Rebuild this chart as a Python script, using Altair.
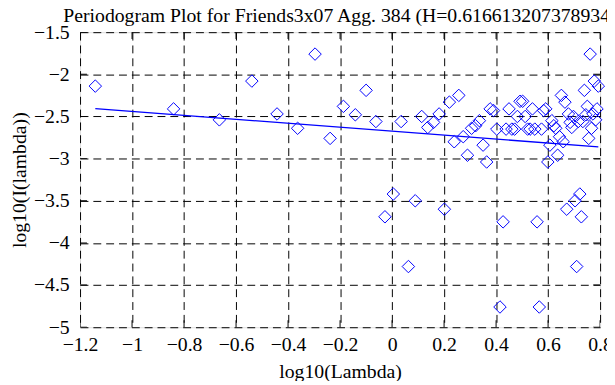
import altair as alt
import pandas as pd

# log10(Lambda) for each periodogram ordinate
log_lambda = [
    -1.1413, -0.8403, -0.6642, -0.5393, -0.4424, -0.3632, -0.2962, -0.2383, -0.1871, -0.1413,
    -0.0999, -0.0622, -0.0274, 0.0048, 0.0348, 0.0628, 0.0891, 0.1139, 0.1374, 0.1597,
    0.1809, 0.2011, 0.2204, 0.2389, 0.2566, 0.2736, 0.2900, 0.3058, 0.3211, 0.3358,
    0.3500, 0.3638, 0.3772, 0.3901, 0.4027, 0.4150, 0.4269, 0.4384, 0.4497, 0.4607,
    0.4714, 0.4819, 0.4921, 0.5021, 0.5119, 0.5214, 0.5308, 0.5399, 0.5489, 0.5576,
    0.5662, 0.5747, 0.5829, 0.5911, 0.5990, 0.6069, 0.6145, 0.6221, 0.6295, 0.6368,
    0.6440, 0.6511, 0.6580, 0.6648, 0.6716, 0.6782, 0.6847, 0.6912, 0.6975, 0.7038,
    0.7099, 0.7160, 0.7220, 0.7279, 0.7337, 0.7395, 0.7452, 0.7508, 0.7563, 0.7618,
    0.7671, 0.7725, 0.7777, 0.7829, 0.7881, 0.7932,
]

# log10(I(lambda))
log_I = [
    -2.14, -2.41, -2.54, -2.08, -2.47, -2.64, -1.76, -2.76, -2.38, -2.48,
    -2.19, -2.56, -3.69, -3.42, -2.56, -4.28, -3.50, -2.50, -2.63, -2.57,
    -2.47, -3.60, -2.33, -2.80, -2.25, -2.74, -2.96, -2.64, -2.61, -2.55,
    -2.84, -3.04, -2.41, -2.43, -2.65, -4.76, -3.75, -2.65, -2.41, -2.65,
    -2.65, -2.50, -2.32, -2.32, -2.50, -2.65, -2.65, -2.41, -2.65, -3.75,
    -4.76, -2.65, -2.43, -2.41, -3.04, -2.84, -2.55, -2.61, -2.64, -2.96,
    -2.74, -2.25, -2.80, -2.33, -3.60, -2.47, -2.57, -2.63, -2.50, -3.50,
    -4.28, -2.56, -3.42, -3.69, -2.56, -2.19, -2.48, -2.38, -2.76, -1.76,
    -2.64, -2.47, -2.08, -2.54, -2.41, -2.14,
]

# least-squares fit line end points
fit_x = [-1.1413, 0.7932]
fit_y = [-2.406, -2.861]

x_ticks = [-1.2, -1, -0.8, -0.6, -0.4, -0.2, 0, 0.2, 0.4, 0.6, 0.8]
y_ticks = [-5, -4.5, -4, -3.5, -3, -2.5, -2, -1.5]
x_range = [-1.2, 0.8]
y_range = [-5, -1.5]

title_text = "Periodogram Plot for Friends3x07 Agg. 384 (H=0.6166132073789345)"

FONT = "Liberation Serif"

pts = pd.DataFrame({"x": log_lambda, "y": log_I})
fit = pd.DataFrame({"x": fit_x, "y": fit_y})
xt = pd.DataFrame([(t, e) for t in x_ticks for e in y_range], columns=["x", "y"])
yt = pd.DataFrame([(e, t) for t in y_ticks for e in x_range], columns=["x", "y"])

common_axis = dict(
    grid=True, gridColor="black", gridDash=[8, 5], gridWidth=1, gridOpacity=1,
    ticks=False, domain=False, format="~g",
    labelFont=FONT, labelFontSize=20, labelColor="black", labelFlush=False,
    labelOverlap=False,
    titleFont=FONT, titleFontSize=20, titleFontWeight="normal", titleColor="black",
)

X = alt.X("x:Q", scale=alt.Scale(domain=x_range, nice=False, zero=False),
          axis=alt.Axis(values=x_ticks, title="log10(Lambda)", labelPadding=8,
                        titlePadding=7, **common_axis))
Y = alt.Y("y:Q", scale=alt.Scale(domain=y_range, nice=False, zero=False),
          axis=alt.Axis(values=y_ticks, title="log10(I(lambda))", labelPadding=11,
                        titlePadding=4, **common_axis))

points = alt.Chart(pts).mark_point(
    shape="diamond", filled=False, color="#0000ff", size=160, strokeWidth=1, opacity=1
).encode(x=X, y=Y)

line = alt.Chart(fit).mark_line(color="#0000ff", strokeWidth=1.3).encode(x=X, y=Y)

xticks = alt.Chart(xt).mark_tick(
    orient="vertical", size=14, thickness=1, color="black", opacity=1, clip=True
).encode(x=X, y=Y)
yticks = alt.Chart(yt).mark_tick(
    orient="horizontal", size=14, thickness=1, color="black", opacity=1, clip=True
).encode(x=X, y=Y)

chart = alt.layer(xticks, yticks, line, points).properties(
    width=527, height=299,
    title=alt.TitleParams(title_text, anchor="start", frame="group", dx=-17, dy=6, offset=2,
                          font=FONT, fontSize=20, fontWeight="normal", color="black"),
    autosize=alt.AutoSizeParams(type="none"),
    padding={"left": 73, "top": 22, "right": 7, "bottom": 52},
).configure_view(stroke="black", strokeWidth=2).configure(background="white")

chart.save("out.html", embed_options={"renderer": "svg", "actions": False})
